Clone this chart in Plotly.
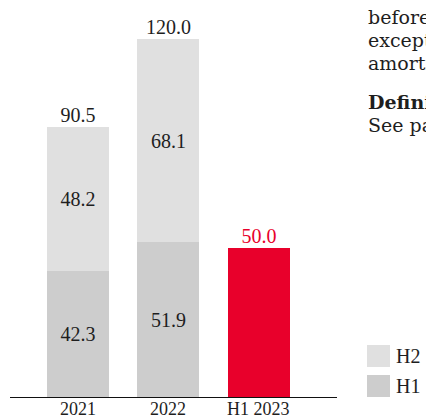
import plotly.graph_objects as go

categories = ["2021", "2022", "H1 2023"]
h1_values = [42.3, 51.9, 50.0]
h2_values = [48.2, 68.1, None]
totals = [90.5, 120.0, 50.0]
h1_labels = ["42.3", "51.9", ""]
h2_labels = ["48.2", "68.1", ""]
total_labels = ["90.5", "120.0", "50.0"]
side_lines = ["before", "exceptional", "amortisation"]
side_heading = "Definition"
side_note = "See page"
legend_names = ["H2", "H1"]

FONT = "Liberation Serif"
SIDE_FONT = "DejaVu Serif"
TXT = "#1e1e1e"
RED = "#e8002b"
H1C = "#cdcdcd"
H2C = "#e0e0e0"

fig = go.Figure()
fig.add_trace(go.Bar(
    x=categories, y=h1_values, name="H1",
    marker=dict(color=[H1C, H1C, RED], line=dict(width=0)),
    text=h1_labels, textposition="inside", insidetextanchor="middle",
    textfont=dict(family=FONT, size=20, color=TXT), width=0.685,
))
fig.add_trace(go.Bar(
    x=categories, y=h2_values, name="H2",
    marker=dict(color=H2C, line=dict(width=0)),
    text=h2_labels, textposition="inside", insidetextanchor="middle",
    textfont=dict(family=FONT, size=20, color=TXT), width=0.685,
))
fig.add_trace(go.Scatter(
    x=categories, y=totals, mode="text", text=total_labels,
    textposition="top center",
    textfont=dict(family=FONT, size=20, color=[TXT, TXT, RED]),
    hoverinfo="skip",
))

W, H = 426, 418
L, R, T, B = 10, 89, 0, 21
pw, ph = W - L - R, H - T - B

def px_x(px):
    return (px - L) / pw

def px_y(py):
    return (H - B - py) / ph

shapes = []
annotations = []
# category labels under the axis (positioned by category index on the x axis)
for i, cat in enumerate(categories):
    annotations.append(dict(text=cat, xref="x", yref="paper", x=i, y=px_y(398),
                            xanchor="center", yanchor="top", showarrow=False,
                            borderpad=0, font=dict(family=FONT, size=18, color=TXT)))
# legend
for name, col, top in [(legend_names[0], H2C, 345), (legend_names[1], H1C, 375)]:
    shapes.append(dict(type="rect", xref="paper", yref="paper",
                       x0=px_x(367), x1=px_x(390), y0=px_y(top + 22), y1=px_y(top),
                       fillcolor=col, line=dict(width=0)))
    annotations.append(dict(text=name, xref="paper", yref="paper",
                            x=px_x(394), y=px_y(top + 11), xanchor="left", yanchor="middle",
                            showarrow=False, font=dict(family=FONT, size=20, color=TXT)))
# side text
for txt, cy in zip(side_lines, [17, 40, 63]):
    annotations.append(dict(text=txt, xref="paper", yref="paper",
                            x=px_x(366), y=px_y(cy), xanchor="left", yanchor="middle",
                            showarrow=False, font=dict(family=SIDE_FONT, size=19, color=TXT)))
annotations.append(dict(text="<b>" + side_heading + "</b>", xref="paper", yref="paper",
                        x=px_x(366), y=px_y(102), xanchor="left", yanchor="middle",
                        showarrow=False, font=dict(family=SIDE_FONT, size=19, color=TXT)))
annotations.append(dict(text=side_note, xref="paper", yref="paper",
                        x=px_x(366), y=px_y(125), xanchor="left", yanchor="middle",
                        showarrow=False, font=dict(family=SIDE_FONT, size=19, color=TXT)))

fig.update_layout(
    width=W, height=H,
    margin=dict(l=L, r=R, t=T, b=B, pad=0),
    barmode="stack",
    showlegend=False,
    paper_bgcolor="white", plot_bgcolor="white",
    xaxis=dict(type="category", range=[-0.751, 2.862], showline=True, linecolor="#111",
               linewidth=1, ticks="", showticklabels=False, showgrid=False,
               zeroline=False, automargin=False),
    yaxis=dict(range=[0, ph / 2.983], visible=False, showgrid=False, zeroline=False),
    shapes=shapes, annotations=annotations,
)

fig.write_html(
    "out.html",
    config={"displayModeBar": False},
    post_script="document.body.style.margin='0';document.body.style.padding='0';"
                "document.documentElement.style.overflow='hidden';",
)
